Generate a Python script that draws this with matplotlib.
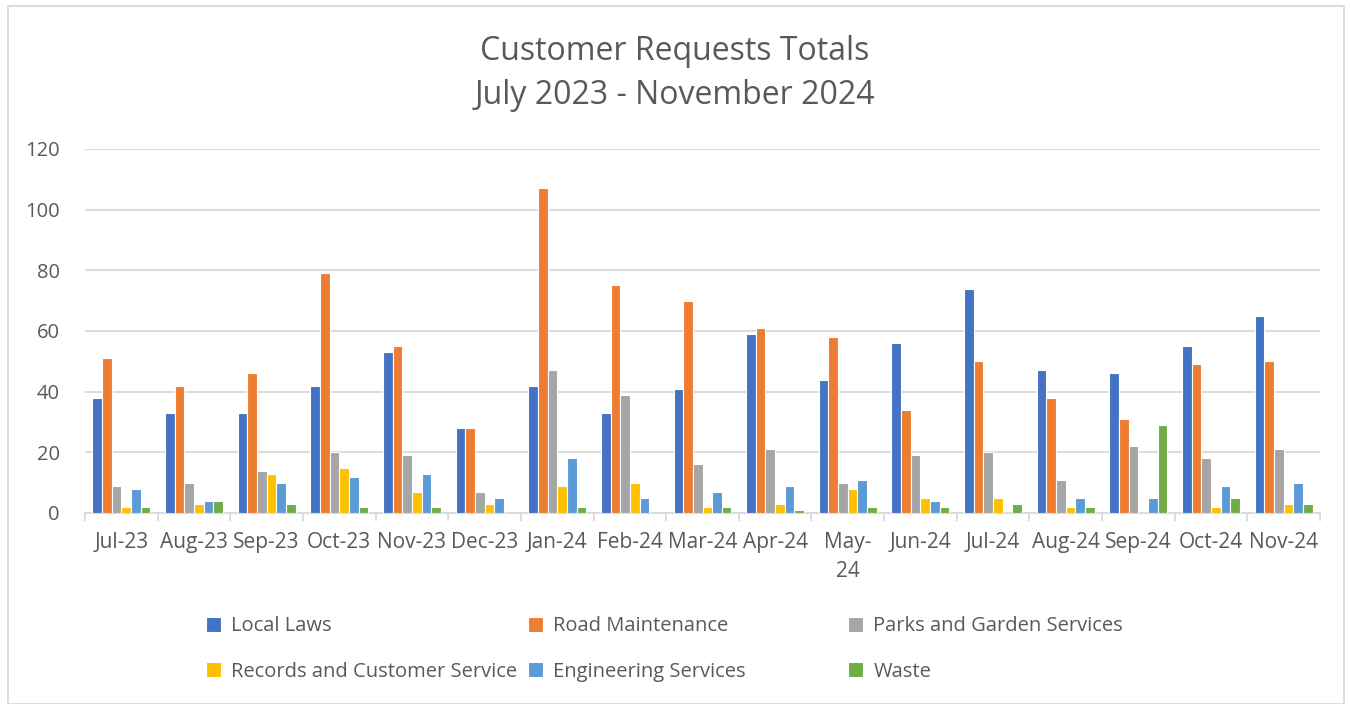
import numpy as np
import matplotlib.pyplot as plt
from matplotlib.patches import Rectangle

months = ['Jul-23', 'Aug-23', 'Sep-23', 'Oct-23', 'Nov-23', 'Dec-23', 'Jan-24', 'Feb-24',
          'Mar-24', 'Apr-24', 'May-\n24', 'Jun-24', 'Jul-24', 'Aug-24', 'Sep-24', 'Oct-24', 'Nov-24']

local_laws = [38, 33, 33, 42, 53, 28, 42, 33, 41, 59, 44, 56, 74, 47, 46, 55, 65]
road_maintenance = [51, 42, 46, 79, 55, 28, 107, 75, 70, 61, 58, 34, 50, 38, 31, 49, 50]
parks_garden = [9, 10, 14, 20, 19, 7, 47, 39, 16, 21, 10, 19, 20, 11, 22, 18, 21]
records_customer = [2, 3, 13, 15, 7, 3, 9, 10, 2, 3, 8, 5, 5, 2, 0, 2, 3]
engineering = [8, 4, 10, 12, 13, 5, 18, 5, 7, 9, 11, 4, 0, 5, 5, 9, 10]
waste = [2, 4, 3, 2, 2, 0, 2, 0, 2, 1, 2, 2, 3, 2, 29, 5, 3]

series = [
    ('Local Laws', local_laws, '#4472C4'),
    ('Road Maintenance', road_maintenance, '#ED7D31'),
    ('Parks and Garden Services', parks_garden, '#A5A5A5'),
    ('Records and Customer Service', records_customer, '#FFC000'),
    ('Engineering Services', engineering, '#5B9BD5'),
    ('Waste', waste, '#70AD47'),
]

plt.rcParams['font.family'] = ['Open Sans', 'DejaVu Sans']
text_color = '#595959'
grid_color = '#D9D9D9'

fig = plt.figure(figsize=(13.5, 7.04), dpi=100)
ax = fig.add_axes([85 / 1350, 1 - 513 / 704, 1235 / 1350, 364 / 704])

x = np.arange(len(months))
slot = 0.133
handles = []
for i, (name, vals, color) in enumerate(series):
    offset = (i - 2.5) * slot
    b = ax.bar(x + offset, vals, width=slot, color=color, edgecolor='white',
               linewidth=0.8, label=name, zorder=3)
    handles.append(b)

ax.set_xlim(-0.5, len(months) - 0.5)
ax.set_ylim(0, 120)
ax.set_yticks(range(0, 121, 20))
ax.yaxis.grid(True, color=grid_color, linewidth=1.3, zorder=0)
ax.tick_params(axis='y', length=0, labelsize=14.5, colors=text_color, pad=18)

ax.set_xticks(x)
ax.set_xticklabels(months, linespacing=1.45)
ax.tick_params(axis='x', length=0, labelsize=15, colors=text_color, pad=14)
ax.set_xticks(np.arange(-0.5, len(months), 1), minor=True)
ax.tick_params(axis='x', which='minor', length=6, color=grid_color, width=1.3)

for side in ['top', 'right', 'left']:
    ax.spines[side].set_visible(False)
ax.spines['bottom'].set_color(grid_color)
ax.spines['bottom'].set_linewidth(1.3)

fig.text(0.5, 1 - 51 / 704, 'Customer Requests Totals', ha='center', va='center',
         fontsize=23, color=text_color)
fig.text(0.5, 1 - 96 / 704, 'July 2023 - November 2024', ha='center', va='center',
         fontsize=23, color=text_color)

# legend laid out row by row, three columns at fixed positions
col_x = [196, 518, 838]
for c in range(3):
    hs = [handles[c], handles[c + 3]]
    labels = [series[c][0], series[c + 3][0]]
    leg = fig.legend(hs, labels, loc='center left',
                     bbox_to_anchor=(col_x[c] / 1350, 1 - 649 / 704),
                     frameon=False, fontsize=14.5, handlelength=0.75, handleheight=0.75,
                     handletextpad=0.5, labelspacing=1.25, borderpad=0)
    for t in leg.get_texts():
        t.set_color(text_color)

fig.patches.append(Rectangle((8 / 1350, 0), 1336 / 1350, 1 - 6 / 704, transform=fig.transFigure,
                             fill=False, edgecolor=grid_color, linewidth=1.3))

fig.savefig('out.png', dpi=100)
